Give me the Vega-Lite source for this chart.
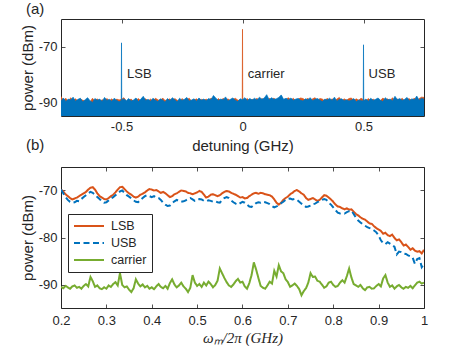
{
"$schema": "https://vega.github.io/schema/vega-lite/v6.json",
"background": "white",
"padding": {"left": 19, "top": 1, "right": 5, "bottom": 0},
"spacing": -17,
"config": {
  "font": "Liberation Sans",
  "view": {"stroke": "#262626", "strokeWidth": 1},
  "axis": {"grid": false, "domain": false, "tickSize": -4, "tickColor": "#262626", "tickWidth": 0.8, "labelFontSize": 13, "labelColor": "#262626", "labelPadding": 8, "labelFlush": false, "titleFontSize": 15, "titleFontWeight": "normal", "titleColor": "#262626", "titlePadding": 3, "labelExpr": "'' + datum.value"},
  "title": {"fontSize": 15, "fontWeight": "normal", "color": "#262626", "anchor": "start", "frame": "group"},
  "legend": {"labelFontSize": 12, "labelColor": "#262626"}
},
"datasets": {
"blueA": [
{"f":-0.75,"p":-89.6},{"f":-0.74,"p":-88.5},{"f":-0.73,"p":-89.8},{"f":-0.72,"p":-88.9},{"f":-0.71,"p":-89.2},{"f":-0.70,"p":-88.2},{"f":-0.69,"p":-89.7},{"f":-0.68,"p":-89.0},{"f":-0.67,"p":-88.6},{"f":-0.66,"p":-89.9},
{"f":-0.65,"p":-89.1},{"f":-0.64,"p":-88.4},{"f":-0.63,"p":-89.5},{"f":-0.62,"p":-90.1},{"f":-0.61,"p":-88.7},{"f":-0.60,"p":-89.3},{"f":-0.59,"p":-88.9},{"f":-0.58,"p":-89.8},{"f":-0.57,"p":-88.3},{"f":-0.56,"p":-89.4},
{"f":-0.55,"p":-89.0},{"f":-0.54,"p":-89.7},{"f":-0.53,"p":-88.6},{"f":-0.52,"p":-89.3},{"f":-0.51,"p":-89.9},{"f":-0.501,"p":-89.4},{"f":-0.50,"p":-68.6},{"f":-0.499,"p":-89.3},{"f":-0.49,"p":-88.8},{"f":-0.48,"p":-89.5},{"f":-0.47,"p":-88.7},{"f":-0.46,"p":-89.6},
{"f":-0.45,"p":-89.2},{"f":-0.44,"p":-88.5},{"f":-0.43,"p":-89.8},{"f":-0.42,"p":-88.9},{"f":-0.41,"p":-87.9},{"f":-0.40,"p":-89.4},{"f":-0.39,"p":-89.0},{"f":-0.38,"p":-89.7},{"f":-0.37,"p":-88.6},{"f":-0.36,"p":-89.3},
{"f":-0.35,"p":-89.8},{"f":-0.34,"p":-88.8},{"f":-0.33,"p":-89.2},{"f":-0.32,"p":-90.0},{"f":-0.31,"p":-88.7},{"f":-0.30,"p":-89.5},{"f":-0.29,"p":-88.4},{"f":-0.28,"p":-89.1},{"f":-0.27,"p":-89.9},{"f":-0.26,"p":-88.6},
{"f":-0.25,"p":-89.4},{"f":-0.24,"p":-89.0},{"f":-0.23,"p":-88.3},{"f":-0.22,"p":-89.6},{"f":-0.21,"p":-89.2},{"f":-0.20,"p":-88.8},{"f":-0.19,"p":-89.7},{"f":-0.18,"p":-88.5},{"f":-0.17,"p":-89.3},{"f":-0.16,"p":-88.9},
{"f":-0.15,"p":-89.5},{"f":-0.14,"p":-88.7},{"f":-0.13,"p":-89.1},{"f":-0.12,"p":-87.6},{"f":-0.11,"p":-88.6},{"f":-0.10,"p":-89.4},{"f":-0.09,"p":-88.9},{"f":-0.08,"p":-89.2},{"f":-0.07,"p":-88.1},{"f":-0.06,"p":-89.6},
{"f":-0.05,"p":-89.0},{"f":-0.04,"p":-88.5},{"f":-0.03,"p":-89.3},{"f":-0.02,"p":-89.8},{"f":-0.01,"p":-88.8},{"f":0.00,"p":-89.1},{"f":0.01,"p":-88.4},{"f":0.02,"p":-89.5},{"f":0.03,"p":-88.7},{"f":0.04,"p":-89.2},
{"f":0.05,"p":-88.6},{"f":0.06,"p":-89.3},{"f":0.07,"p":-88.2},{"f":0.08,"p":-89.0},{"f":0.09,"p":-88.5},{"f":0.10,"p":-87.3},{"f":0.11,"p":-89.1},{"f":0.12,"p":-88.4},{"f":0.13,"p":-89.0},{"f":0.14,"p":-88.8},
{"f":0.15,"p":-88.3},{"f":0.16,"p":-87.4},{"f":0.17,"p":-89.0},{"f":0.18,"p":-88.6},{"f":0.19,"p":-89.2},{"f":0.20,"p":-88.5},{"f":0.21,"p":-89.4},{"f":0.22,"p":-88.9},{"f":0.23,"p":-88.7},{"f":0.24,"p":-89.3},
{"f":0.25,"p":-89.6},{"f":0.26,"p":-88.8},{"f":0.27,"p":-89.1},{"f":0.28,"p":-88.4},{"f":0.29,"p":-89.5},{"f":0.30,"p":-89.0},{"f":0.31,"p":-88.7},{"f":0.32,"p":-89.3},{"f":0.33,"p":-89.8},{"f":0.34,"p":-88.9},
{"f":0.35,"p":-89.2},{"f":0.36,"p":-88.6},{"f":0.37,"p":-89.4},{"f":0.38,"p":-88.2},{"f":0.39,"p":-89.7},{"f":0.40,"p":-89.0},{"f":0.41,"p":-88.8},{"f":0.42,"p":-89.5},{"f":0.43,"p":-89.1},{"f":0.44,"p":-89.6},
{"f":0.45,"p":-89.3},{"f":0.46,"p":-88.7},{"f":0.47,"p":-89.9},{"f":0.48,"p":-89.2},{"f":0.49,"p":-89.5},{"f":0.499,"p":-89.6},{"f":0.50,"p":-69.3},{"f":0.501,"p":-89.5},{"f":0.51,"p":-88.9},{"f":0.52,"p":-89.7},{"f":0.53,"p":-88.6},{"f":0.54,"p":-89.4},
{"f":0.55,"p":-89.0},{"f":0.56,"p":-88.5},{"f":0.57,"p":-89.3},{"f":0.58,"p":-89.8},{"f":0.59,"p":-88.4},{"f":0.60,"p":-89.2},{"f":0.61,"p":-88.9},{"f":0.62,"p":-89.6},{"f":0.63,"p":-87.9},{"f":0.64,"p":-89.1},
{"f":0.65,"p":-88.7},{"f":0.66,"p":-89.4},{"f":0.67,"p":-89.0},{"f":0.68,"p":-88.3},{"f":0.69,"p":-89.5},{"f":0.70,"p":-88.8},{"f":0.71,"p":-89.2},{"f":0.72,"p":-87.8},{"f":0.73,"p":-89.3},{"f":0.74,"p":-88.6},{"f":0.75,"p":-89.0}
],
"orangeA": [
{"f":-0.75,"p":-88.0},{"f":-0.74,"p":-89.4},{"f":-0.73,"p":-88.6},{"f":-0.72,"p":-89.9},{"f":-0.71,"p":-88.4},{"f":-0.70,"p":-89.5},{"f":-0.69,"p":-88.8},{"f":-0.68,"p":-89.6},{"f":-0.67,"p":-88.9},{"f":-0.66,"p":-89.3},
{"f":-0.65,"p":-89.6},{"f":-0.64,"p":-88.9},{"f":-0.63,"p":-90.0},{"f":-0.62,"p":-88.6},{"f":-0.61,"p":-89.5},{"f":-0.60,"p":-88.8},{"f":-0.59,"p":-89.8},{"f":-0.58,"p":-89.1},{"f":-0.57,"p":-89.4},{"f":-0.56,"p":-88.7},
{"f":-0.55,"p":-89.5},{"f":-0.54,"p":-88.8},{"f":-0.53,"p":-89.8},{"f":-0.52,"p":-88.9},{"f":-0.51,"p":-89.2},{"f":-0.50,"p":-89.0},{"f":-0.49,"p":-88.4},{"f":-0.48,"p":-89.7},{"f":-0.47,"p":-89.3},{"f":-0.46,"p":-88.9},
{"f":-0.45,"p":-89.8},{"f":-0.44,"p":-89.4},{"f":-0.43,"p":-88.7},{"f":-0.42,"p":-89.6},{"f":-0.41,"p":-89.0},{"f":-0.40,"p":-88.8},{"f":-0.39,"p":-89.6},{"f":-0.38,"p":-88.9},{"f":-0.37,"p":-89.7},{"f":-0.36,"p":-88.6},
{"f":-0.35,"p":-89.1},{"f":-0.34,"p":-89.7},{"f":-0.33,"p":-88.5},{"f":-0.32,"p":-89.4},{"f":-0.31,"p":-89.2},{"f":-0.30,"p":-88.8},{"f":-0.29,"p":-89.6},{"f":-0.28,"p":-88.7},{"f":-0.27,"p":-89.3},{"f":-0.26,"p":-89.8},
{"f":-0.25,"p":-88.7},{"f":-0.24,"p":-89.5},{"f":-0.23,"p":-89.1},{"f":-0.22,"p":-88.6},{"f":-0.21,"p":-89.7},{"f":-0.20,"p":-89.3},{"f":-0.19,"p":-88.8},{"f":-0.18,"p":-89.6},{"f":-0.17,"p":-89.0},{"f":-0.16,"p":-89.4},
{"f":-0.15,"p":-88.9},{"f":-0.14,"p":-89.6},{"f":-0.13,"p":-88.5},{"f":-0.12,"p":-89.3},{"f":-0.11,"p":-89.8},{"f":-0.10,"p":-88.7},{"f":-0.09,"p":-89.5},{"f":-0.08,"p":-88.6},{"f":-0.07,"p":-89.4},{"f":-0.06,"p":-88.8},
{"f":-0.05,"p":-89.5},{"f":-0.04,"p":-89.1},{"f":-0.03,"p":-88.6},{"f":-0.02,"p":-89.2},{"f":-0.01,"p":-89.7},{"f":-0.001,"p":-89.5},{"f":0.00,"p":-63.7},{"f":0.001,"p":-89.4},{"f":0.01,"p":-89.3},{"f":0.02,"p":-88.7},{"f":0.03,"p":-89.6},{"f":0.04,"p":-89.0},
{"f":0.05,"p":-89.4},{"f":0.06,"p":-88.6},{"f":0.07,"p":-89.5},{"f":0.08,"p":-88.7},{"f":0.09,"p":-89.2},{"f":0.10,"p":-89.8},{"f":0.11,"p":-88.6},{"f":0.12,"p":-89.3},{"f":0.13,"p":-88.5},{"f":0.14,"p":-89.6},
{"f":0.15,"p":-89.2},{"f":0.16,"p":-88.8},{"f":0.17,"p":-89.5},{"f":0.18,"p":-89.0},{"f":0.19,"p":-88.4},{"f":0.20,"p":-89.3},{"f":0.21,"p":-88.6},{"f":0.22,"p":-89.5},{"f":0.23,"p":-88.9},{"f":0.24,"p":-88.5},
{"f":0.25,"p":-88.7},{"f":0.26,"p":-89.3},{"f":0.27,"p":-88.6},{"f":0.28,"p":-89.5},{"f":0.29,"p":-88.8},{"f":0.30,"p":-88.4},{"f":0.31,"p":-89.4},{"f":0.32,"p":-88.7},{"f":0.33,"p":-88.9},{"f":0.34,"p":-89.6},
{"f":0.35,"p":-88.6},{"f":0.36,"p":-89.5},{"f":0.37,"p":-88.8},{"f":0.38,"p":-89.4},{"f":0.39,"p":-88.9},{"f":0.40,"p":-88.3},{"f":0.41,"p":-89.6},{"f":0.42,"p":-88.8},{"f":0.43,"p":-89.3},{"f":0.44,"p":-88.7},
{"f":0.45,"p":-88.5},{"f":0.46,"p":-89.4},{"f":0.47,"p":-88.8},{"f":0.48,"p":-89.3},{"f":0.49,"p":-88.6},{"f":0.50,"p":-89.1},{"f":0.51,"p":-89.5},{"f":0.52,"p":-88.7},{"f":0.53,"p":-89.4},{"f":0.54,"p":-88.9},
{"f":0.55,"p":-89.6},{"f":0.56,"p":-88.9},{"f":0.57,"p":-89.4},{"f":0.58,"p":-88.5},{"f":0.59,"p":-89.2},{"f":0.60,"p":-88.8},{"f":0.61,"p":-89.5},{"f":0.62,"p":-88.4},{"f":0.63,"p":-89.7},{"f":0.64,"p":-88.9},
{"f":0.65,"p":-89.3},{"f":0.66,"p":-88.6},{"f":0.67,"p":-89.7},{"f":0.68,"p":-88.9},{"f":0.69,"p":-88.8},{"f":0.70,"p":-89.4},{"f":0.71,"p":-88.5},{"f":0.72,"p":-89.6},{"f":0.73,"p":-88.7},{"f":0.74,"p":-88.2},{"f":0.75,"p":-88.3}
],
"labelsA": [
{"f":-0.477,"p":-80,"label":"LSB"},{"f":0.022,"p":-80,"label":"carrier"},{"f":0.521,"p":-80,"label":"USB"}
],
"sweep": [
{"w":0.200,"s":"LSB","p":-69.8},{"w":0.205,"s":"LSB","p":-70.2},{"w":0.210,"s":"LSB","p":-70.8},{"w":0.215,"s":"LSB","p":-71.2},{"w":0.220,"s":"LSB","p":-71.6},{"w":0.225,"s":"LSB","p":-71.9},{"w":0.230,"s":"LSB","p":-71.7},{"w":0.235,"s":"LSB","p":-71.5},{"w":0.240,"s":"LSB","p":-71.2},{"w":0.245,"s":"LSB","p":-70.9},
{"w":0.250,"s":"LSB","p":-70.6},{"w":0.255,"s":"LSB","p":-70.3},{"w":0.260,"s":"LSB","p":-69.8},{"w":0.265,"s":"LSB","p":-69.4},{"w":0.270,"s":"LSB","p":-69.3},{"w":0.275,"s":"LSB","p":-69.8},{"w":0.280,"s":"LSB","p":-70.6},{"w":0.285,"s":"LSB","p":-71.2},{"w":0.290,"s":"LSB","p":-71.5},{"w":0.295,"s":"LSB","p":-71.8},
{"w":0.300,"s":"LSB","p":-71.9},{"w":0.305,"s":"LSB","p":-71.6},{"w":0.310,"s":"LSB","p":-71.2},{"w":0.315,"s":"LSB","p":-70.9},{"w":0.320,"s":"LSB","p":-70.4},{"w":0.325,"s":"LSB","p":-69.8},{"w":0.330,"s":"LSB","p":-69.3},{"w":0.335,"s":"LSB","p":-69.2},{"w":0.340,"s":"LSB","p":-69.7},{"w":0.345,"s":"LSB","p":-70.2},
{"w":0.350,"s":"LSB","p":-70.6},{"w":0.355,"s":"LSB","p":-70.9},{"w":0.360,"s":"LSB","p":-71.3},{"w":0.365,"s":"LSB","p":-71.5},{"w":0.370,"s":"LSB","p":-71.3},{"w":0.375,"s":"LSB","p":-70.9},{"w":0.380,"s":"LSB","p":-70.7},{"w":0.385,"s":"LSB","p":-70.4},{"w":0.390,"s":"LSB","p":-70.0},{"w":0.395,"s":"LSB","p":-69.7},
{"w":0.400,"s":"LSB","p":-69.8},{"w":0.405,"s":"LSB","p":-70.0},{"w":0.410,"s":"LSB","p":-69.9},{"w":0.415,"s":"LSB","p":-70.2},{"w":0.420,"s":"LSB","p":-70.5},{"w":0.425,"s":"LSB","p":-70.3},{"w":0.430,"s":"LSB","p":-70.6},{"w":0.435,"s":"LSB","p":-71.0},{"w":0.440,"s":"LSB","p":-71.4},{"w":0.445,"s":"LSB","p":-71.2},
{"w":0.450,"s":"LSB","p":-70.8},{"w":0.455,"s":"LSB","p":-70.6},{"w":0.460,"s":"LSB","p":-70.3},{"w":0.465,"s":"LSB","p":-70.0},{"w":0.470,"s":"LSB","p":-70.1},{"w":0.475,"s":"LSB","p":-70.2},{"w":0.480,"s":"LSB","p":-70.5},{"w":0.485,"s":"LSB","p":-70.6},{"w":0.490,"s":"LSB","p":-70.8},{"w":0.495,"s":"LSB","p":-70.6},
{"w":0.500,"s":"LSB","p":-70.4},{"w":0.505,"s":"LSB","p":-70.1},{"w":0.510,"s":"LSB","p":-70.3},{"w":0.515,"s":"LSB","p":-70.9},{"w":0.520,"s":"LSB","p":-71.5},{"w":0.525,"s":"LSB","p":-71.3},{"w":0.530,"s":"LSB","p":-70.9},{"w":0.535,"s":"LSB","p":-70.8},{"w":0.540,"s":"LSB","p":-71.0},{"w":0.545,"s":"LSB","p":-71.2},
{"w":0.550,"s":"LSB","p":-71.0},{"w":0.555,"s":"LSB","p":-70.6},{"w":0.560,"s":"LSB","p":-70.3},{"w":0.565,"s":"LSB","p":-70.1},{"w":0.570,"s":"LSB","p":-70.2},{"w":0.575,"s":"LSB","p":-70.5},{"w":0.580,"s":"LSB","p":-70.7},{"w":0.585,"s":"LSB","p":-70.9},{"w":0.590,"s":"LSB","p":-71.2},{"w":0.595,"s":"LSB","p":-71.5},
{"w":0.600,"s":"LSB","p":-71.4},{"w":0.605,"s":"LSB","p":-71.7},{"w":0.610,"s":"LSB","p":-71.6},{"w":0.615,"s":"LSB","p":-71.2},{"w":0.620,"s":"LSB","p":-70.9},{"w":0.625,"s":"LSB","p":-70.6},{"w":0.630,"s":"LSB","p":-70.5},{"w":0.635,"s":"LSB","p":-70.7},{"w":0.640,"s":"LSB","p":-70.5},{"w":0.645,"s":"LSB","p":-70.6},
{"w":0.650,"s":"LSB","p":-70.8},{"w":0.655,"s":"LSB","p":-70.9},{"w":0.660,"s":"LSB","p":-71.0},{"w":0.665,"s":"LSB","p":-71.3},{"w":0.670,"s":"LSB","p":-71.9},{"w":0.675,"s":"LSB","p":-72.6},{"w":0.680,"s":"LSB","p":-73.0},{"w":0.685,"s":"LSB","p":-72.6},{"w":0.690,"s":"LSB","p":-72.0},{"w":0.695,"s":"LSB","p":-71.6},
{"w":0.700,"s":"LSB","p":-71.3},{"w":0.705,"s":"LSB","p":-70.8},{"w":0.710,"s":"LSB","p":-70.5},{"w":0.715,"s":"LSB","p":-70.1},{"w":0.720,"s":"LSB","p":-69.9},{"w":0.725,"s":"LSB","p":-70.2},{"w":0.730,"s":"LSB","p":-70.6},{"w":0.735,"s":"LSB","p":-70.9},{"w":0.740,"s":"LSB","p":-71.6},{"w":0.745,"s":"LSB","p":-72.0},
{"w":0.750,"s":"LSB","p":-71.8},{"w":0.755,"s":"LSB","p":-71.6},{"w":0.760,"s":"LSB","p":-71.9},{"w":0.765,"s":"LSB","p":-72.2},{"w":0.770,"s":"LSB","p":-72.0},{"w":0.775,"s":"LSB","p":-71.5},{"w":0.780,"s":"LSB","p":-71.0},{"w":0.785,"s":"LSB","p":-71.1},{"w":0.790,"s":"LSB","p":-71.5},{"w":0.795,"s":"LSB","p":-71.9},
{"w":0.800,"s":"LSB","p":-72.4},{"w":0.805,"s":"LSB","p":-73.0},{"w":0.810,"s":"LSB","p":-73.4},{"w":0.815,"s":"LSB","p":-73.5},{"w":0.820,"s":"LSB","p":-73.8},{"w":0.825,"s":"LSB","p":-74.0},{"w":0.830,"s":"LSB","p":-73.8},{"w":0.835,"s":"LSB","p":-74.1},{"w":0.840,"s":"LSB","p":-74.0},{"w":0.845,"s":"LSB","p":-74.5},
{"w":0.850,"s":"LSB","p":-75.0},{"w":0.855,"s":"LSB","p":-75.3},{"w":0.860,"s":"LSB","p":-75.7},{"w":0.865,"s":"LSB","p":-76.0},{"w":0.870,"s":"LSB","p":-76.2},{"w":0.875,"s":"LSB","p":-76.6},{"w":0.880,"s":"LSB","p":-77.0},{"w":0.885,"s":"LSB","p":-77.1},{"w":0.890,"s":"LSB","p":-77.6},{"w":0.895,"s":"LSB","p":-78.0},
{"w":0.900,"s":"LSB","p":-78.3},{"w":0.905,"s":"LSB","p":-78.6},{"w":0.910,"s":"LSB","p":-79.2},{"w":0.915,"s":"LSB","p":-79.0},{"w":0.920,"s":"LSB","p":-79.5},{"w":0.925,"s":"LSB","p":-79.7},{"w":0.930,"s":"LSB","p":-79.4},{"w":0.935,"s":"LSB","p":-80.1},{"w":0.940,"s":"LSB","p":-80.6},{"w":0.945,"s":"LSB","p":-80.4},
{"w":0.950,"s":"LSB","p":-81.0},{"w":0.955,"s":"LSB","p":-81.7},{"w":0.960,"s":"LSB","p":-81.5},{"w":0.965,"s":"LSB","p":-82.0},{"w":0.970,"s":"LSB","p":-82.6},{"w":0.975,"s":"LSB","p":-82.3},{"w":0.980,"s":"LSB","p":-82.8},{"w":0.985,"s":"LSB","p":-83.0},{"w":0.990,"s":"LSB","p":-82.9},{"w":0.995,"s":"LSB","p":-83.4},
{"w":1.000,"s":"LSB","p":-82.6},
{"w":0.200,"s":"USB","p":-69.8},{"w":0.205,"s":"USB","p":-70.6},{"w":0.210,"s":"USB","p":-71.4},{"w":0.215,"s":"USB","p":-72.0},{"w":0.220,"s":"USB","p":-72.4},{"w":0.225,"s":"USB","p":-72.6},{"w":0.230,"s":"USB","p":-72.5},{"w":0.235,"s":"USB","p":-72.2},{"w":0.240,"s":"USB","p":-72.3},{"w":0.245,"s":"USB","p":-71.8},
{"w":0.250,"s":"USB","p":-71.4},{"w":0.255,"s":"USB","p":-71.0},{"w":0.260,"s":"USB","p":-70.6},{"w":0.265,"s":"USB","p":-70.3},{"w":0.270,"s":"USB","p":-70.5},{"w":0.275,"s":"USB","p":-70.9},{"w":0.280,"s":"USB","p":-71.4},{"w":0.285,"s":"USB","p":-71.8},{"w":0.290,"s":"USB","p":-72.3},{"w":0.295,"s":"USB","p":-72.6},
{"w":0.300,"s":"USB","p":-72.5},{"w":0.305,"s":"USB","p":-72.1},{"w":0.310,"s":"USB","p":-71.7},{"w":0.315,"s":"USB","p":-71.4},{"w":0.320,"s":"USB","p":-71.0},{"w":0.325,"s":"USB","p":-70.6},{"w":0.330,"s":"USB","p":-70.2},{"w":0.335,"s":"USB","p":-70.0},{"w":0.340,"s":"USB","p":-70.5},{"w":0.345,"s":"USB","p":-71.0},
{"w":0.350,"s":"USB","p":-71.3},{"w":0.355,"s":"USB","p":-71.7},{"w":0.360,"s":"USB","p":-72.1},{"w":0.365,"s":"USB","p":-72.4},{"w":0.370,"s":"USB","p":-72.5},{"w":0.375,"s":"USB","p":-72.0},{"w":0.380,"s":"USB","p":-71.6},{"w":0.385,"s":"USB","p":-71.2},{"w":0.390,"s":"USB","p":-71.0},{"w":0.395,"s":"USB","p":-71.2},
{"w":0.400,"s":"USB","p":-71.4},{"w":0.405,"s":"USB","p":-71.2},{"w":0.410,"s":"USB","p":-71.5},{"w":0.415,"s":"USB","p":-71.6},{"w":0.420,"s":"USB","p":-72.0},{"w":0.425,"s":"USB","p":-72.6},{"w":0.430,"s":"USB","p":-73.0},{"w":0.435,"s":"USB","p":-73.3},{"w":0.440,"s":"USB","p":-73.2},{"w":0.445,"s":"USB","p":-72.7},
{"w":0.450,"s":"USB","p":-72.3},{"w":0.455,"s":"USB","p":-72.0},{"w":0.460,"s":"USB","p":-72.2},{"w":0.465,"s":"USB","p":-72.4},{"w":0.470,"s":"USB","p":-72.3},{"w":0.475,"s":"USB","p":-72.1},{"w":0.480,"s":"USB","p":-71.8},{"w":0.485,"s":"USB","p":-71.6},{"w":0.490,"s":"USB","p":-71.9},{"w":0.495,"s":"USB","p":-72.2},
{"w":0.500,"s":"USB","p":-72.1},{"w":0.505,"s":"USB","p":-71.8},{"w":0.510,"s":"USB","p":-71.9},{"w":0.515,"s":"USB","p":-72.2},{"w":0.520,"s":"USB","p":-72.3},{"w":0.525,"s":"USB","p":-72.1},{"w":0.530,"s":"USB","p":-72.2},{"w":0.535,"s":"USB","p":-72.4},{"w":0.540,"s":"USB","p":-72.3},{"w":0.545,"s":"USB","p":-72.5},
{"w":0.550,"s":"USB","p":-72.6},{"w":0.555,"s":"USB","p":-72.0},{"w":0.560,"s":"USB","p":-71.6},{"w":0.565,"s":"USB","p":-71.4},{"w":0.570,"s":"USB","p":-71.6},{"w":0.575,"s":"USB","p":-72.1},{"w":0.580,"s":"USB","p":-72.5},{"w":0.585,"s":"USB","p":-72.8},{"w":0.590,"s":"USB","p":-73.0},{"w":0.595,"s":"USB","p":-72.7},
{"w":0.600,"s":"USB","p":-72.4},{"w":0.605,"s":"USB","p":-72.6},{"w":0.610,"s":"USB","p":-73.0},{"w":0.615,"s":"USB","p":-73.4},{"w":0.620,"s":"USB","p":-73.5},{"w":0.625,"s":"USB","p":-73.1},{"w":0.630,"s":"USB","p":-72.7},{"w":0.635,"s":"USB","p":-72.5},{"w":0.640,"s":"USB","p":-72.6},{"w":0.645,"s":"USB","p":-72.4},
{"w":0.650,"s":"USB","p":-72.5},{"w":0.655,"s":"USB","p":-72.7},{"w":0.660,"s":"USB","p":-72.9},{"w":0.665,"s":"USB","p":-73.3},{"w":0.670,"s":"USB","p":-73.6},{"w":0.675,"s":"USB","p":-73.4},{"w":0.680,"s":"USB","p":-73.1},{"w":0.685,"s":"USB","p":-72.7},{"w":0.690,"s":"USB","p":-72.4},{"w":0.695,"s":"USB","p":-72.0},
{"w":0.700,"s":"USB","p":-71.8},{"w":0.705,"s":"USB","p":-71.7},{"w":0.710,"s":"USB","p":-71.9},{"w":0.715,"s":"USB","p":-71.8},{"w":0.720,"s":"USB","p":-72.0},{"w":0.725,"s":"USB","p":-72.4},{"w":0.730,"s":"USB","p":-72.8},{"w":0.735,"s":"USB","p":-73.1},{"w":0.740,"s":"USB","p":-73.5},{"w":0.745,"s":"USB","p":-73.4},
{"w":0.750,"s":"USB","p":-73.2},{"w":0.755,"s":"USB","p":-72.9},{"w":0.760,"s":"USB","p":-72.8},{"w":0.765,"s":"USB","p":-72.5},{"w":0.770,"s":"USB","p":-72.2},{"w":0.775,"s":"USB","p":-72.0},{"w":0.780,"s":"USB","p":-71.8},{"w":0.785,"s":"USB","p":-72.0},{"w":0.790,"s":"USB","p":-72.6},{"w":0.795,"s":"USB","p":-73.0},
{"w":0.800,"s":"USB","p":-73.6},{"w":0.805,"s":"USB","p":-74.2},{"w":0.810,"s":"USB","p":-74.7},{"w":0.815,"s":"USB","p":-74.9},{"w":0.820,"s":"USB","p":-74.8},{"w":0.825,"s":"USB","p":-74.9},{"w":0.830,"s":"USB","p":-74.6},{"w":0.835,"s":"USB","p":-74.4},{"w":0.840,"s":"USB","p":-74.3},{"w":0.845,"s":"USB","p":-75.0},
{"w":0.850,"s":"USB","p":-75.8},{"w":0.855,"s":"USB","p":-76.4},{"w":0.860,"s":"USB","p":-76.8},{"w":0.865,"s":"USB","p":-77.2},{"w":0.870,"s":"USB","p":-77.5},{"w":0.875,"s":"USB","p":-77.8},{"w":0.880,"s":"USB","p":-78.0},{"w":0.885,"s":"USB","p":-78.2},{"w":0.890,"s":"USB","p":-78.5},{"w":0.895,"s":"USB","p":-78.9},
{"w":0.900,"s":"USB","p":-79.6},{"w":0.905,"s":"USB","p":-80.6},{"w":0.910,"s":"USB","p":-81.2},{"w":0.915,"s":"USB","p":-81.4},{"w":0.920,"s":"USB","p":-81.0},{"w":0.925,"s":"USB","p":-81.3},{"w":0.930,"s":"USB","p":-81.6},{"w":0.935,"s":"USB","p":-82.0},{"w":0.940,"s":"USB","p":-83.6},{"w":0.945,"s":"USB","p":-83.0},
{"w":0.950,"s":"USB","p":-83.1},{"w":0.955,"s":"USB","p":-83.4},{"w":0.960,"s":"USB","p":-83.5},{"w":0.965,"s":"USB","p":-83.8},{"w":0.970,"s":"USB","p":-84.0},{"w":0.975,"s":"USB","p":-84.3},{"w":0.980,"s":"USB","p":-85.6},{"w":0.985,"s":"USB","p":-84.6},{"w":0.990,"s":"USB","p":-84.4},{"w":0.995,"s":"USB","p":-86.3},
{"w":1.000,"s":"USB","p":-85.6},
{"w":0.200,"s":"carrier","p":-90.5},{"w":0.205,"s":"carrier","p":-90.8},{"w":0.210,"s":"carrier","p":-90.3},{"w":0.215,"s":"carrier","p":-90.6},{"w":0.220,"s":"carrier","p":-90.9},{"w":0.225,"s":"carrier","p":-90.4},{"w":0.230,"s":"carrier","p":-90.2},{"w":0.235,"s":"carrier","p":-90.7},{"w":0.240,"s":"carrier","p":-90.5},{"w":0.245,"s":"carrier","p":-90.9},
{"w":0.250,"s":"carrier","p":-90.3},{"w":0.255,"s":"carrier","p":-89.9},{"w":0.260,"s":"carrier","p":-90.4},{"w":0.265,"s":"carrier","p":-88.4},{"w":0.270,"s":"carrier","p":-89.3},{"w":0.275,"s":"carrier","p":-90.5},{"w":0.280,"s":"carrier","p":-90.2},{"w":0.285,"s":"carrier","p":-90.8},{"w":0.290,"s":"carrier","p":-91.0},{"w":0.295,"s":"carrier","p":-90.6},
{"w":0.300,"s":"carrier","p":-90.9},{"w":0.305,"s":"carrier","p":-90.2},{"w":0.310,"s":"carrier","p":-90.5},{"w":0.315,"s":"carrier","p":-89.9},{"w":0.320,"s":"carrier","p":-89.5},{"w":0.325,"s":"carrier","p":-90.2},{"w":0.330,"s":"carrier","p":-87.6},{"w":0.335,"s":"carrier","p":-90.1},{"w":0.340,"s":"carrier","p":-90.6},{"w":0.345,"s":"carrier","p":-90.4},
{"w":0.350,"s":"carrier","p":-91.1},{"w":0.355,"s":"carrier","p":-91.6},{"w":0.360,"s":"carrier","p":-90.8},{"w":0.365,"s":"carrier","p":-88.9},{"w":0.370,"s":"carrier","p":-89.8},{"w":0.375,"s":"carrier","p":-90.4},{"w":0.380,"s":"carrier","p":-90.0},{"w":0.385,"s":"carrier","p":-90.6},{"w":0.390,"s":"carrier","p":-90.3},{"w":0.395,"s":"carrier","p":-90.9},
{"w":0.400,"s":"carrier","p":-90.6},{"w":0.405,"s":"carrier","p":-91.0},{"w":0.410,"s":"carrier","p":-90.4},{"w":0.415,"s":"carrier","p":-89.9},{"w":0.420,"s":"carrier","p":-90.5},{"w":0.425,"s":"carrier","p":-90.8},{"w":0.430,"s":"carrier","p":-90.3},{"w":0.435,"s":"carrier","p":-90.9},{"w":0.440,"s":"carrier","p":-89.7},{"w":0.445,"s":"carrier","p":-88.9},
{"w":0.450,"s":"carrier","p":-90.0},{"w":0.455,"s":"carrier","p":-90.6},{"w":0.460,"s":"carrier","p":-90.2},{"w":0.465,"s":"carrier","p":-89.6},{"w":0.470,"s":"carrier","p":-90.4},{"w":0.475,"s":"carrier","p":-90.9},{"w":0.480,"s":"carrier","p":-91.6},{"w":0.485,"s":"carrier","p":-90.7},{"w":0.490,"s":"carrier","p":-88.0},{"w":0.495,"s":"carrier","p":-89.6},
{"w":0.500,"s":"carrier","p":-90.3},{"w":0.505,"s":"carrier","p":-89.9},{"w":0.510,"s":"carrier","p":-90.5},{"w":0.515,"s":"carrier","p":-89.6},{"w":0.520,"s":"carrier","p":-90.2},{"w":0.525,"s":"carrier","p":-89.4},{"w":0.530,"s":"carrier","p":-89.9},{"w":0.535,"s":"carrier","p":-90.6},{"w":0.540,"s":"carrier","p":-90.1},{"w":0.545,"s":"carrier","p":-89.2},
{"w":0.550,"s":"carrier","p":-86.6},{"w":0.555,"s":"carrier","p":-87.6},{"w":0.560,"s":"carrier","p":-88.6},{"w":0.565,"s":"carrier","p":-89.5},{"w":0.570,"s":"carrier","p":-90.2},{"w":0.575,"s":"carrier","p":-90.5},{"w":0.580,"s":"carrier","p":-90.0},{"w":0.585,"s":"carrier","p":-89.3},{"w":0.590,"s":"carrier","p":-88.8},{"w":0.595,"s":"carrier","p":-89.6},
{"w":0.600,"s":"carrier","p":-89.4},{"w":0.605,"s":"carrier","p":-90.4},{"w":0.610,"s":"carrier","p":-90.9},{"w":0.615,"s":"carrier","p":-89.7},{"w":0.620,"s":"carrier","p":-88.0},{"w":0.625,"s":"carrier","p":-85.3},{"w":0.630,"s":"carrier","p":-86.8},{"w":0.635,"s":"carrier","p":-88.6},{"w":0.640,"s":"carrier","p":-90.3},{"w":0.645,"s":"carrier","p":-90.7},
{"w":0.650,"s":"carrier","p":-90.9},{"w":0.655,"s":"carrier","p":-90.2},{"w":0.660,"s":"carrier","p":-89.4},{"w":0.665,"s":"carrier","p":-89.8},{"w":0.670,"s":"carrier","p":-87.1},{"w":0.675,"s":"carrier","p":-88.3},{"w":0.680,"s":"carrier","p":-85.9},{"w":0.685,"s":"carrier","p":-87.2},{"w":0.690,"s":"carrier","p":-87.6},{"w":0.695,"s":"carrier","p":-88.9},
{"w":0.700,"s":"carrier","p":-89.5},{"w":0.705,"s":"carrier","p":-90.5},{"w":0.710,"s":"carrier","p":-90.2},{"w":0.715,"s":"carrier","p":-89.8},{"w":0.720,"s":"carrier","p":-90.3},{"w":0.725,"s":"carrier","p":-91.0},{"w":0.730,"s":"carrier","p":-92.3},{"w":0.735,"s":"carrier","p":-91.4},{"w":0.740,"s":"carrier","p":-90.8},{"w":0.745,"s":"carrier","p":-89.6},
{"w":0.750,"s":"carrier","p":-87.6},{"w":0.755,"s":"carrier","p":-88.4},{"w":0.760,"s":"carrier","p":-88.3},{"w":0.765,"s":"carrier","p":-89.2},{"w":0.770,"s":"carrier","p":-89.4},{"w":0.775,"s":"carrier","p":-90.0},{"w":0.780,"s":"carrier","p":-90.7},{"w":0.785,"s":"carrier","p":-90.4},{"w":0.790,"s":"carrier","p":-89.6},{"w":0.795,"s":"carrier","p":-89.4},
{"w":0.800,"s":"carrier","p":-90.1},{"w":0.805,"s":"carrier","p":-90.5},{"w":0.810,"s":"carrier","p":-90.3},{"w":0.815,"s":"carrier","p":-89.6},{"w":0.820,"s":"carrier","p":-89.1},{"w":0.825,"s":"carrier","p":-89.6},{"w":0.830,"s":"carrier","p":-88.2},{"w":0.835,"s":"carrier","p":-86.6},{"w":0.840,"s":"carrier","p":-88.5},{"w":0.845,"s":"carrier","p":-89.9},
{"w":0.850,"s":"carrier","p":-90.2},{"w":0.855,"s":"carrier","p":-90.5},{"w":0.860,"s":"carrier","p":-90.1},{"w":0.865,"s":"carrier","p":-90.8},{"w":0.870,"s":"carrier","p":-91.2},{"w":0.875,"s":"carrier","p":-90.6},{"w":0.880,"s":"carrier","p":-90.5},{"w":0.885,"s":"carrier","p":-90.9},{"w":0.890,"s":"carrier","p":-90.8},{"w":0.895,"s":"carrier","p":-90.3},
{"w":0.900,"s":"carrier","p":-89.9},{"w":0.905,"s":"carrier","p":-90.4},{"w":0.910,"s":"carrier","p":-88.7},{"w":0.915,"s":"carrier","p":-88.0},{"w":0.920,"s":"carrier","p":-89.6},{"w":0.925,"s":"carrier","p":-90.5},{"w":0.930,"s":"carrier","p":-90.2},{"w":0.935,"s":"carrier","p":-90.9},{"w":0.940,"s":"carrier","p":-90.4},{"w":0.945,"s":"carrier","p":-90.1},
{"w":0.950,"s":"carrier","p":-90.6},{"w":0.955,"s":"carrier","p":-90.9},{"w":0.960,"s":"carrier","p":-90.5},{"w":0.965,"s":"carrier","p":-90.7},{"w":0.970,"s":"carrier","p":-90.3},{"w":0.975,"s":"carrier","p":-90.8},{"w":0.980,"s":"carrier","p":-90.2},{"w":0.985,"s":"carrier","p":-89.6},{"w":0.990,"s":"carrier","p":-89.4},{"w":0.995,"s":"carrier","p":-89.8},
{"w":1.000,"s":"carrier","p":-89.6}
]
},
"vconcat": [
{
  "width": 363, "height": 97,
  "title": {"text": "(a)", "dx": -35, "offset": 2},
  "layer": [
    {"data": {"name": "orangeA"},
     "mark": {"type": "area", "color": "#D95319", "stroke": "#D95319", "strokeWidth": 0.7, "clip": true},
     "encoding": {
       "x": {"field": "f", "type": "quantitative", "scale": {"domain": [-0.75, 0.75], "nice": false}, "axis": {"values": [-0.5, 0, 0.5], "title": "detuning (GHz)", "titlePadding": 5}},
       "y": {"field": "p", "type": "quantitative", "scale": {"domain": [-95, -60], "nice": false, "zero": false}, "axis": {"values": [-90, -70], "title": "power (dBm)"}},
       "y2": {"datum": -95}
     }},
    {"data": {"name": "blueA"},
     "mark": {"type": "area", "color": "#0072BD", "stroke": "#0072BD", "strokeWidth": 0.7, "clip": true},
     "encoding": {
       "x": {"field": "f", "type": "quantitative", "axis": null},
       "y": {"field": "p", "type": "quantitative", "axis": null},
       "y2": {"datum": -95}
     }},
    {"data": {"name": "labelsA"},
     "mark": {"type": "text", "align": "left", "baseline": "middle", "fontSize": 13, "color": "#262626"},
     "encoding": {
       "x": {"field": "f", "type": "quantitative", "axis": {"orient": "top", "values": [-0.5, 0, 0.5], "labels": false, "title": null}},
       "y": {"field": "p", "type": "quantitative", "axis": {"orient": "right", "values": [-90, -70], "labels": false, "title": null}},
       "text": {"field": "label"}
     }}
  ],
  "resolve": {"axis": {"x": "independent", "y": "independent"}}
},
{
  "width": 363, "height": 141,
  "title": {"text": "(b)", "dx": -35, "offset": 14},
  "layer": [
    {"data": {"name": "sweep"},
     "mark": {"type": "line", "strokeWidth": 2, "clip": true},
     "encoding": {
       "x": {"field": "w", "type": "quantitative", "scale": {"domain": [0.2, 1], "nice": false, "zero": false}, "axis": {"values": [0.2, 0.3, 0.4, 0.5, 0.6, 0.7, 0.8, 0.9, 1], "title": "ωₘ/2π (GHz)", "titleFont": "Liberation Serif", "titleFontStyle": "italic", "titleFontSize": 15, "labelPadding": 10, "titlePadding": 3}},
       "y": {"field": "p", "type": "quantitative", "scale": {"domain": [-95, -65], "nice": false, "zero": false}, "axis": {"values": [-90, -80, -70], "title": "power (dBm)"}},
       "color": {"field": "s", "type": "nominal", "scale": {"domain": ["LSB", "USB", "carrier"], "range": ["#D95319", "#0072BD", "#77AC30"]},
                 "legend": {"title": null, "orient": "none", "legendX": 7, "legendY": 195, "symbolType": "stroke", "symbolSize": 900, "symbolStrokeWidth": 2, "clipHeight": 14, "rowPadding": 3, "padding": 5, "labelOffset": 6, "labelFontSize": 12.5, "strokeColor": "#262626", "fillColor": "white"}},
       "strokeDash": {"field": "s", "type": "nominal", "scale": {"domain": ["LSB", "USB", "carrier"], "range": [[1, 0], [6, 3.5], [1, 0]]},
                 "legend": {"title": null, "orient": "none", "legendX": 7, "legendY": 195, "symbolType": "stroke", "symbolSize": 900, "symbolStrokeWidth": 2, "clipHeight": 14, "rowPadding": 3, "padding": 5, "labelOffset": 6, "labelFontSize": 12.5, "strokeColor": "#262626", "fillColor": "white"}}
     }},
    {"data": {"name": "sweep"},
     "mark": {"type": "point", "opacity": 0},
     "encoding": {
       "x": {"field": "w", "type": "quantitative", "axis": {"orient": "top", "values": [0.2, 0.3, 0.4, 0.5, 0.6, 0.7, 0.8, 0.9, 1], "labels": false, "title": null}},
       "y": {"field": "p", "type": "quantitative", "axis": {"orient": "right", "values": [-90, -80, -70], "labels": false, "title": null}}
     }}
  ],
  "resolve": {"axis": {"x": "independent", "y": "independent"}}
}
]
}
